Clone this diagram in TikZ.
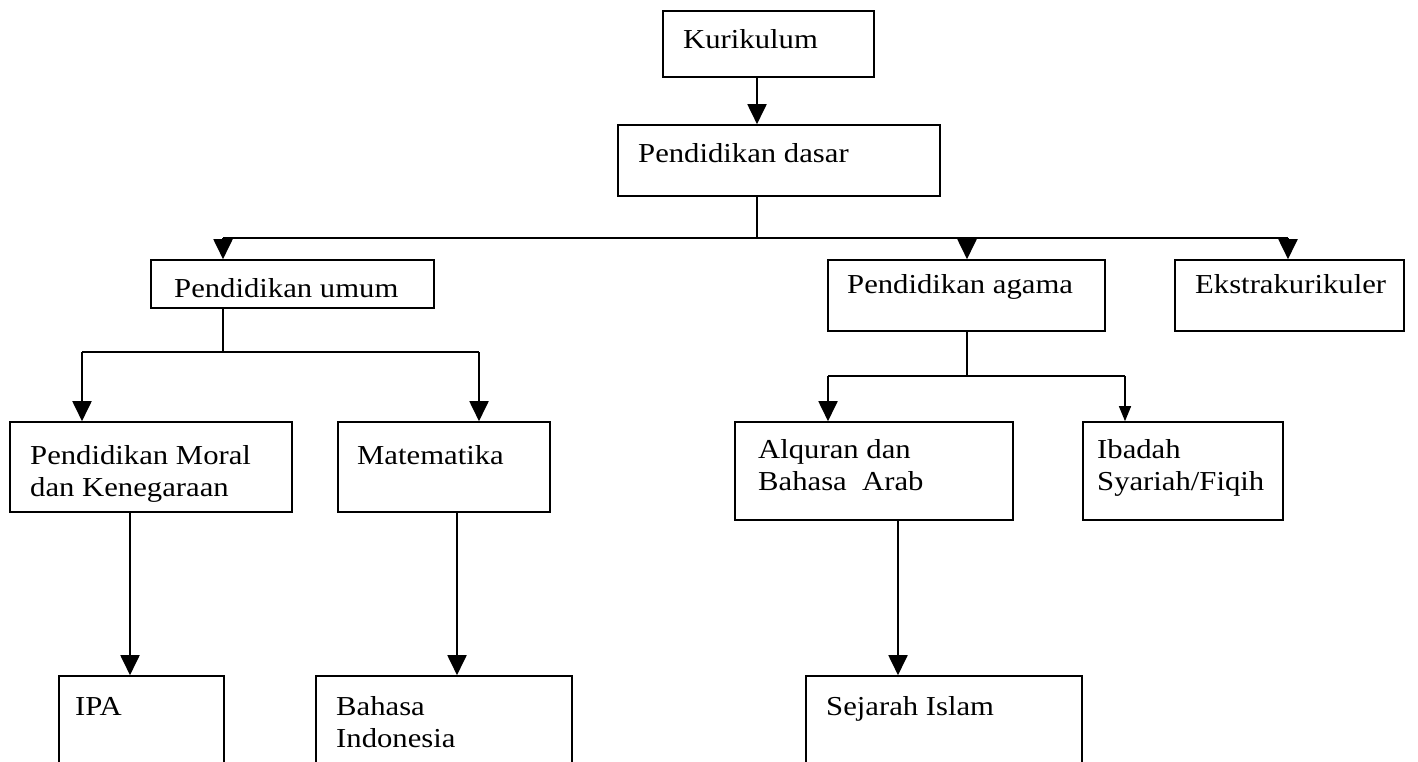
\documentclass[tikz,border=0pt]{standalone}
\usepackage{fontspec}
\setmainfont{Liberation Serif}[FakeStretch=1.12]
\usetikzlibrary{arrows.meta}
\newcommand\bx[5]{\node[box,minimum width={#4-#2},minimum height={#5-#3}] (#1) at ({(#2+#4)/2},{(#3+#5)/2}) {};}
\begin{document}
\begin{tikzpicture}[x=1pt,y=-1pt,
  box/.style={draw=black,line width=1.6pt,inner sep=0pt},
  lbl/.style={anchor=base west,inner sep=0pt,font=\fontsize{27.4}{32}\selectfont},
  ln/.style={line width=1.9pt},
  arr/.style={line width=1.9pt,-{Triangle[width=19pt,length=20pt]}},
  arrs/.style={line width=1.3pt,-{Triangle[width=12pt,length=15pt]}}]
\useasboundingbox (0,0) rectangle (1418,762);
\clip (0,0) rectangle (1418,762);
% boxes (name, left, top, right, bottom)
\bx{kur}{663}{11}{874}{77}
\bx{dasar}{618}{125}{940}{196}
\bx{umum}{151}{260}{434}{308}
\bx{agama}{828}{260}{1105}{331}
\bx{ekstra}{1175}{260}{1404}{331}
\bx{moral}{10}{422}{292}{512}
\bx{mat}{338}{422}{550}{512}
\bx{alq}{735}{422}{1013}{520}
\bx{ibadah}{1083}{422}{1283}{520}
\bx{ipa}{59}{676}{224}{800}
\bx{bind}{316}{676}{572}{800}
\bx{sej}{806}{676}{1082}{800}
% texts
\node[lbl] (tkur) at (683,49) {Kurikulum};
\node[lbl] (tdasar) at (638,163) {Pendidikan dasar};
\node[lbl] (tumum) at (174,297) {Pendidikan umum};
\node[lbl] (tagama) at (847,293) {Pendidikan agama};
\node[lbl] (tekstra) at (1195,293) {Ekstrakurikuler};
\node[lbl] (tmoral1) at (30,464) {Pendidikan Moral};
\node[lbl] (tmoral2) at (30,496) {dan Kenegaraan};
\node[lbl] (tmat) at (357,464) {Matematika};
\node[lbl] (talq1) at (758,458) {Alquran dan};
\node[lbl] (talq2) at (758,490) {Bahasa\ \ Arab};
\node[lbl] (tib1) at (1097,458) {Ibadah};
\node[lbl] (tib2) at (1097,490) {Syariah/Fiqih};
\node[lbl] (tipa) at (75,715) {IPA};
\node[lbl] (tbind1) at (336,715) {Bahasa};
\node[lbl] (tbind2) at (336,747) {Indonesia};
\node[lbl] (tsej) at (826,715) {Sejarah Islam};
% junction points
\coordinate (j1) at (757,238);
\coordinate (j2) at (223,352);
\coordinate (j3) at (967,376);
% connectors
\draw[arr] (kur.south -| j1) -- (dasar.north -| j1);
\draw[ln] (dasar.south -| j1) -- (j1);
\draw[ln] (223,238) -- (1288,238);
\draw[arr] (223,238) -- (umum.north -| 223,0);
\draw[arr] (967,238) -- (agama.north -| 967,0);
\draw[arr] (1288,238) -- (ekstra.north -| 1288,0);
\draw[ln] (umum.south -| j2) -- (j2);
\draw[ln] (82,352) -- (479,352);
\draw[arr] (82,352) -- (moral.north -| 82,0);
\draw[arr] (479,352) -- (mat.north -| 479,0);
\draw[ln] (agama.south -| j3) -- (j3);
\draw[ln] (828,376) -- (1125,376);
\draw[arr] (828,376) -- (alq.north -| 828,0);
\draw[arrs] (1125,376) -- (ibadah.north -| 1125,0);
\draw[arr] (moral.south -| 130,0) -- (ipa.north -| 130,0);
\draw[arr] (mat.south -| 457,0) -- (bind.north -| 457,0);
\draw[arr] (alq.south -| 898,0) -- (sej.north -| 898,0);
\end{tikzpicture}
\end{document}
